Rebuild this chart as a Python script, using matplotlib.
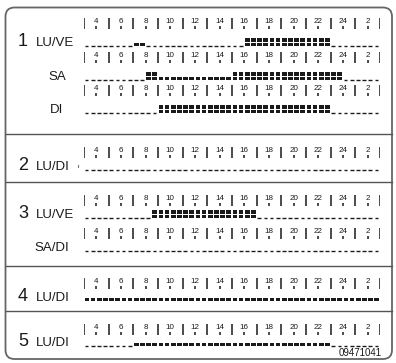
import matplotlib
matplotlib.use("Agg")
import matplotlib.pyplot as plt
from matplotlib.patches import FancyBboxPatch

W, H = 396, 363
plt.rcParams['font.family'] = ['Liberation Sans', 'DejaVu Sans']

# ---- data ----
hour_start, hour_end = 3, 27
bar_hours = [3, 5, 7, 9, 11, 13, 15, 17, 19, 21, 23, 25, 27]
label_hours = [4, 6, 8, 10, 12, 14, 16, 18, 20, 22, 24, 26]
label_texts = ['4', '6', '8', '10', '12', '14', '16', '18', '20', '22', '24', '2']
step = 0.5  # half-hour segments

# program blocks: (start hour, end hour, level) ; level 1 = short block, 2 = tall block
prog_1_luve = [(7, 8, 1), (16, 23, 2)]
prog_1_sa = [(8, 9, 2), (9, 15, 1), (15, 24, 2)]
prog_1_di = [(9, 23, 2)]
prog_2_ludi = []
prog_3_luve = [(8.5, 17, 2)]
prog_3_sadi = []
prog_4_ludi = [(3, 27, 1)]
prog_5_ludi = [(7, 23, 1)]

section_numbers = ['1', '2', '3', '4', '5']
day_labels = ['LU/VE', 'SA', 'DI', 'LU/DI', 'LU/VE', 'SA/DI', 'LU/DI', 'LU/DI']
programs = [prog_1_luve, prog_1_sa, prog_1_di, prog_2_ludi,
            prog_3_luve, prog_3_sadi, prog_4_ludi, prog_5_ludi]
doc_code = '09471041'

# ---- layout (pixels) ----
row_section = [0, None, None, 1, 2, None, 3, 4]
ruler_y = [23, 57, 90, 152, 200, 233, 283, 329]
dash_y = [46, 80, 113, 170, 218, 251, 301, 346]
sep_y = [134, 182, 266, 311]
label_x = [36, 48, 50, 36, 36, 34, 36, 36]

fig = plt.figure(figsize=(W / 100, H / 100), dpi=100)
bg = fig.add_axes([0, 0, 1, 1])
bg.set_xlim(0, W)
bg.set_ylim(H, 0)
bg.axis('off')

ink = '#1a1a1a'
box = FancyBboxPatch((5.5, 7.5), 386.5, 351.5, boxstyle='round,pad=0,rounding_size=9',
                     fc='none', ec='#666666', lw=1.3)
bg.add_patch(box)
for y in sep_y:
    bg.plot([5.5, 392], [y, y], color='#555555', lw=1.0)

for i, lab in enumerate(day_labels):
    bg.text(label_x[i], dash_y[i], lab, fontsize=9.5, color=ink, ha='left', va='baseline')
    if row_section[i] is not None:
        bg.text(18, dash_y[i], section_numbers[row_section[i]], fontsize=13,
                color=ink, ha='left', va='baseline')
bg.text(382, 356, doc_code, fontsize=7, color=ink, ha='right', va='baseline')
bg.plot([78, 78], [dash_y[3] - 5, dash_y[3] - 3], color='#777777', lw=0.8)

# time axes: x in hours, y in pixels
x0, x1 = 84, 380
ax = fig.add_axes([x0 / W, 0, (x1 - x0) / W, 1])
ax.set_xlim(hour_start, hour_end)
ax.set_ylim(H, 0)
ax.axis('off')
ax.patch.set_alpha(0)

def level_at(prog, t):
    for s, e, lv in prog:
        if s <= t < e:
            return lv
    return 0

n_seg = int((hour_end - hour_start) / step)
for i, prog in enumerate(programs):
    ry = ruler_y[i]
    ax.vlines(bar_hours, ry - 5.5, ry + 5.5, color=ink, lw=1.1)
    for h, t in zip(label_hours, label_texts):
        ax.text(h, ry - 1.6, t, fontsize=5.8, color=ink, ha='center', va='center')
        ax.vlines(h, ry + 2.8, ry + 5.5, color=ink, lw=1.1)
    dy = dash_y[i]
    for k in range(n_seg):
        t = hour_start + k * step
        lv = level_at(prog, t)
        if lv == 0:
            ax.hlines(dy - 0.5, t + 0.06, t + 0.36, color=ink, lw=1.0)
        elif lv == 1:
            ax.bar(t + 0.05, 3.4, width=0.37, bottom=dy - 3.4, align='edge',
                   color=ink, lw=0)
        else:
            ax.bar(t + 0.05, 3.4, width=0.37, bottom=dy - 3.4, align='edge',
                   color=ink, lw=0)
            ax.bar(t + 0.05, 3.4, width=0.37, bottom=dy - 7.6, align='edge',
                   color=ink, lw=0)

fig.savefig('out.png', dpi=100)
